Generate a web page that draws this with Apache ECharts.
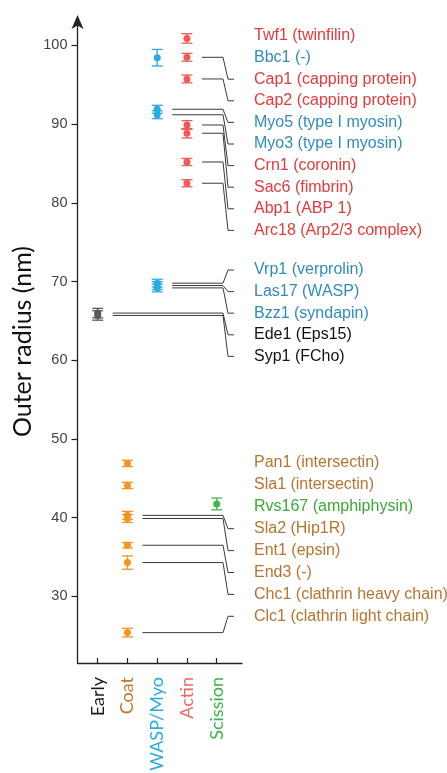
<!DOCTYPE html>
<html><head><meta charset="utf-8">
<script src="https://cdn.jsdelivr.net/npm/echarts@6/dist/echarts.min.js"></script>
<style>html,body{margin:0;padding:0;background:#fff}#c{width:447px;height:773px}</style>
</head><body><div id="c"></div><script>
// ---- data ----
const categories = ['Early', 'Coat', 'WASP/Myo', 'Actin', 'Scission'];
const yTicks = [30, 40, 50, 60, 70, 80, 90, 100];

const proteinNames = ['Twf1','Bbc1','Cap1','Cap2','Myo5','Myo3','Crn1','Sac6','Abp1','Arc18',
  'Vrp1','Las17','Bzz1','Ede1','Syp1',
  'Pan1','Sla1','Rvs167','Sla2','Ent1','End3','Chc1','Clc1'];
const proteinDesc = ['twinfilin','-','capping protein','capping protein','type I myosin','type I myosin','coronin','fimbrin','ABP 1','Arp2/3 complex',
  'verprolin','WASP','syndapin','Eps15','FCho',
  'intersectin','intersectin','amphiphysin','Hip1R','epsin','-','clathrin heavy chain','clathrin light chain'];
const proteinCategory = [3,2,3,3,2,2,3,3,3,3, 2,2,2,0,0, 1,1,4,1,1,1,1,1];
const outerRadius = [100.9,98.45,98.5,95.75,91.9,91.2,89.9,88.85,85.2,82.5,
  69.8,69.5,69.2,66.0,65.7,
  46.9,44.1,41.75,40.3,39.9,36.5,34.3,25.4];
const radiusError = [0.6,1.05,0.5,0.5,0.5,0.5,0.55,0.6,0.45,0.45,
  0.5,0.5,0.5,0.6,0.6,
  0.4,0.4,0.75,0.5,0.5,0.35,0.85,0.55];
const hasLeader = [0,0,1,1,1,1,1,1,1,1, 1,1,1,1,1, 0,0,0,1,1,1,1,1];

// ---- styles / layout ----
const axisLabelColors = ['#1a1a1a','#c27a2c','#29abe2','#f26666','#39b54a'];
const markerColors = ['#5a5a5a','#f7941d','#29abe2','#ef5a5a','#3db54a'];
const textColors = ['#111111','#b8742f','#2f8cbd','#e6393b','#3aaa35'];
const labelGroups = [
  {start: 0, count: 10, y0: 36, dy: 21.6},
  {start: 10, count: 5, y0: 270, dy: 21.6},
  {start: 15, count: 8, y0: 463, dy: 21.9}
];
const LABEL_X = 254, BEND1 = 223, BEND2 = 228, LEAD_END = 234, LEAD_START_GAP = 15;

const chart = echarts.init(document.getElementById('c'), null, {renderer: 'canvas'});

const scatterSeries = categories.map((c, ci) => ({
  type: 'scatter', name: c, z: 3,
  symbolSize: 7,
  itemStyle: {color: markerColors[ci], opacity: 1},
  data: outerRadius.map((r, i) => proteinCategory[i] === ci ? [ci, r, i] : null).filter(d => d)
}));

const errorSeries = {
  type: 'custom', z: 2,
  data: outerRadius.map((r, i) => [proteinCategory[i], r, radiusError[i]]),
  renderItem: function (params, api) {
    const x = api.value(0), v = api.value(1), e = api.value(2);
    const lo = api.coord([x, v - e]), hi = api.coord([x, v + e]);
    const col = markerColors[x];
    const hw = 5.5;
    const st = {stroke: col, lineWidth: 1.3};
    return {type: 'group', children: [
      {type: 'line', shape: {x1: lo[0], y1: lo[1], x2: hi[0], y2: hi[1]}, style: st},
      {type: 'line', shape: {x1: lo[0]-hw, y1: lo[1], x2: lo[0]+hw, y2: lo[1]}, style: st},
      {type: 'line', shape: {x1: hi[0]-hw, y1: hi[1], x2: hi[0]+hw, y2: hi[1]}, style: st}
    ]};
  }
};

const rich = {};
categories.forEach((c, i) => { rich['c' + i] = {color: axisLabelColors[i], fontSize: 18, fontFamily: 'Lato'}; });

chart.setOption({
  animation: false,
  backgroundColor: '#fff',
  grid: {left: 77.5, right: 205, top: 20, bottom: 110, containLabel: false, outerBoundsMode: 'none'},
  xAxis: {
    type: 'value', min: -0.68, max: 4.85,
    splitLine: {show: false},
    axisLine: {onZero: false, lineStyle: {color: '#222', width: 1.3}},
    axisTick: {inside: true, length: 5, lineStyle: {color: '#222', width: 1.2}, customValues: [0,1,2,3,4]},
    axisLabel: {
      customValues: [0,1,2,3,4], rotate: 90, margin: 14,
      formatter: v => '{c' + v + '|' + categories[v] + '}', rich: rich
    }
  },
  yAxis: {
    type: 'value', min: 21.54, max: 103.24,
    name: 'Outer radius (nm)', nameLocation: 'middle', nameRotate: 90, nameGap: 42,
    nameTextStyle: {fontSize: 25, fontFamily: 'Lato', color: '#111'},
    splitLine: {show: false},
    axisLine: {onZero: false, symbol: ['none', 'arrow'], symbolSize: [9, 14], symbolOffset: [0, 5],
      lineStyle: {color: '#222', width: 1.3}},
    axisTick: {customValues: yTicks, length: 6, lineStyle: {color: '#222', width: 1.2}},
    axisLabel: {customValues: yTicks, fontSize: 14.5, fontFamily: 'Liberation Sans', color: '#444', margin: 10}
  },
  series: [errorSeries].concat(scatterSeries)
});

// leader lines and protein labels
const graphics = [];
labelGroups.forEach(g => {
  for (let k = 0; k < g.count; k++) {
    const i = g.start + k;
    const ly = g.y0 + k * g.dy;
    const p = chart.convertToPixel({gridIndex: 0}, [proteinCategory[i], outerRadius[i]]);
    if (hasLeader[i]) {
      graphics.push({type: 'polyline', silent: true,
        shape: {points: [[p[0] + LEAD_START_GAP, p[1]], [BEND1, p[1]], [BEND2, ly], [LEAD_END, ly]]},
        style: {stroke: '#3a3a3a', lineWidth: 1, fill: null}});
    }
    graphics.push({type: 'text', silent: true, x: LABEL_X, y: ly,
      style: {text: proteinNames[i] + ' (' + proteinDesc[i] + ')', fill: textColors[proteinCategory[i]],
        font: '16px "Liberation Sans", Arial, sans-serif', verticalAlign: 'middle', align: 'left'}});
  }
});
chart.setOption({graphic: graphics});
</script></body></html>
